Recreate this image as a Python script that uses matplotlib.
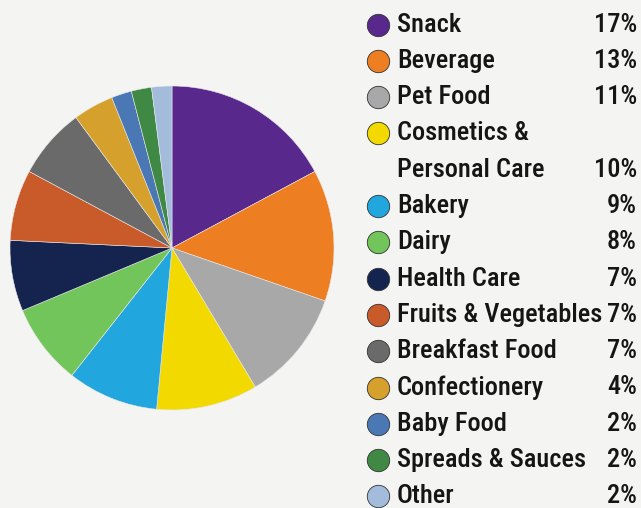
import matplotlib.pyplot as plt
from matplotlib import font_manager

# dados do gráfico
categorias = ['Snack', 'Beverage', 'Pet Food', 'Cosmetics &\nPersonal Care', 'Bakery', 'Dairy',
              'Health Care', 'Fruits & Vegetables', 'Breakfast Food', 'Confectionery',
              'Baby Food', 'Spreads & Sauces', 'Other']
valores = [17, 13, 11, 10, 9, 8, 7, 7, 7, 4, 2, 2, 2]
cores = ['#58288c', '#ee7e22', '#a8a8a8', '#f2d900', '#22a6de', '#72c55a',
         '#14244f', '#c95a2a', '#6a6a6a', '#d5a12c', '#4a78b4', '#3f8944', '#a3bcdc']

# fonte estreita parecida com Arial Narrow
nomes = {f.name for f in font_manager.fontManager.ttflist}
fonte = 'DejaVu Sans'
for cand in ['Liberation Sans Narrow', 'Roboto Condensed', 'Archivo Narrow', 'PT Sans Narrow']:
    if cand in nomes:
        fonte = cand
        break

fundo = '#f4f4f2'
fig = plt.figure(figsize=(6.41, 5.08), dpi=100, facecolor=fundo)

# pizza
ax = fig.add_axes([10 / 641, 98 / 508, 324 / 641, 324 / 508])
ax.pie(valores, colors=cores, startangle=90, counterclock=False,
       wedgeprops={'edgecolor': '#e8e8e8', 'linewidth': 0.4})
ax.set_xlim(-1, 1)
ax.set_ylim(-1, 1)
ax.set_aspect('equal')
ax.axis('off')

# legenda desenhada à mão (coordenadas em pixels)
lg = fig.add_axes([0, 0, 1, 1])
lg.set_xlim(0, 641)
lg.set_ylim(508, 0)
lg.axis('off')

passo = 36.3
linha = 0
for nome, v, c in zip(categorias, valores, cores):
    y = 24.5 + linha * passo
    lg.scatter([378], [y], s=260, color=c, edgecolor='#333333', linewidth=0.6, zorder=3)
    partes = nome.split('\n')
    for k, p in enumerate(partes):
        lg.text(397, y + k * passo, p, fontsize=19, family=fonte, weight='medium',
                color='#151515', va='center', ha='left')
    lg.text(637, y + (len(partes) - 1) * passo, f'{v}%', fontsize=19, family=fonte,
            weight='medium', color='#151515', va='center', ha='right')
    linha += len(partes)

plt.savefig('out.png', dpi=100, facecolor=fundo)
